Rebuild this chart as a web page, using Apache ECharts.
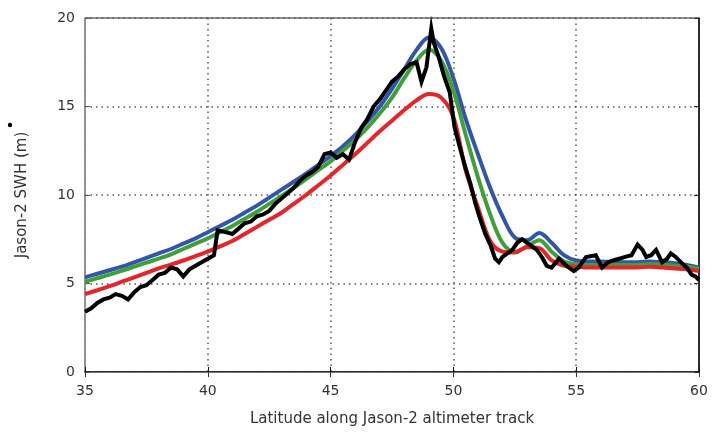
<!DOCTYPE html>
<html>
<head>
<meta charset="utf-8">
<script src="https://cdn.jsdelivr.net/npm/echarts@6/dist/echarts.min.js"></script>
<style>
  html, body { margin: 0; padding: 0; background: #fff; }
  #chart { width: 713px; height: 435px; }
</style>
</head>
<body>
<div id="chart"></div>
<script>
// Model latitude grid (degrees N), 0.5 degree spacing
const modelLat = [
  35, 35.5, 36, 36.5, 37, 37.5, 38, 38.5, 39, 39.5,
  40, 40.5, 41, 41.5, 42, 42.5, 43, 43.5, 44, 44.5,
  45, 45.5, 46, 46.5, 47, 47.5, 48, 48.5, 49, 49.5,
  50, 50.5, 51, 51.5, 52, 52.5, 53, 53.5, 54, 54.5,
  55, 55.5, 56, 56.5, 57, 57.5, 58, 58.5, 59, 59.5, 60
];

// Modelled significant wave height (m), three model runs
const swhBlue = [
  5.35, 5.55, 5.75, 5.95, 6.2, 6.45, 6.7, 6.95, 7.25, 7.55,
  7.9, 8.25, 8.6, 9.0, 9.4, 9.85, 10.3, 10.75, 11.2, 11.7,
  12.2, 12.75, 13.4, 14.15, 15.0, 16.0, 17.1, 18.2, 18.9, 18.3,
  16.6, 14.3, 12.3, 10.4, 8.8, 7.6, 7.45, 7.85, 7.3, 6.6,
  6.3, 6.25, 6.25, 6.2, 6.2, 6.2, 6.25, 6.2, 6.15, 6.05, 5.9
];
const swhGreen = [
  5.1, 5.3, 5.5, 5.72, 5.95, 6.18, 6.4, 6.65, 6.95, 7.25,
  7.55, 7.9, 8.25, 8.65, 9.05, 9.5, 9.95, 10.4, 10.9, 11.4,
  11.9, 12.5, 13.1, 13.8, 14.6, 15.5, 16.6, 17.6, 18.2, 17.6,
  15.9, 13.4, 11.0, 8.9, 7.3, 6.8, 7.1, 7.45, 6.8, 6.25,
  6.1, 6.05, 6.05, 6.05, 6.05, 6.05, 6.1, 6.05, 6.0, 5.95, 5.85
];
const swhRed = [
  4.4, 4.62, 4.85, 5.1, 5.35, 5.6, 5.85, 6.07, 6.3, 6.55,
  6.8, 7.1, 7.4, 7.8, 8.2, 8.6, 9.0, 9.5, 10.0, 10.55,
  11.1, 11.7, 12.3, 12.95, 13.6, 14.2, 14.8, 15.35, 15.7, 15.5,
  14.4, 11.4, 9.3, 7.4, 6.8, 6.75, 7.05, 7.0, 6.3, 6.0,
  5.95, 5.9, 5.9, 5.9, 5.9, 5.9, 5.95, 5.9, 5.85, 5.8, 5.7
];

// Jason-2 altimeter observations along the track
const obsLat = [
  35.0, 35.25, 35.5, 35.75, 36.0, 36.25, 36.5, 36.75, 37.0, 37.25,
  37.5, 37.75, 38.0, 38.25, 38.5, 38.75, 39.0, 39.25, 39.5, 39.75,
  40.0, 40.25, 40.4, 40.75, 41.0, 41.25, 41.5, 41.75, 42.0, 42.25,
  42.5, 42.75, 43.0, 43.25, 43.5, 43.75, 44.0, 44.25, 44.5, 44.75,
  45.0, 45.25, 45.5, 45.75, 46.0, 46.25, 46.5, 46.75, 47.0, 47.25,
  47.5, 47.75, 48.0, 48.25, 48.5, 48.7, 48.9, 49.1, 49.2, 49.4,
  49.6, 49.85, 50.05, 50.3, 50.5, 50.7, 50.9, 51.1, 51.3, 51.5,
  51.7, 51.85, 52.0, 52.2, 52.4, 52.6, 52.8, 53.0, 53.2, 53.4,
  53.6, 53.8, 54.0, 54.3, 54.6, 54.9, 55.1, 55.4, 55.8, 56.05,
  56.3, 56.5, 56.75, 57.0, 57.25, 57.5, 57.7, 57.85, 58.05, 58.25,
  58.5, 58.7, 58.85, 59.05, 59.3, 59.5, 59.7, 59.85, 60.0
];
const obsSwh = [
  3.4, 3.6, 3.9, 4.1, 4.2, 4.4, 4.3, 4.1, 4.5, 4.8,
  4.9, 5.2, 5.5, 5.6, 5.9, 5.8, 5.4, 5.8, 6.0, 6.2,
  6.4, 6.6, 8.0, 7.9, 7.8, 8.1, 8.4, 8.5, 8.8, 8.9,
  9.1, 9.5, 9.8, 10.1, 10.4, 10.8, 11.1, 11.3, 11.6, 12.3,
  12.4, 12.1, 12.3, 12.0, 13.0, 13.8, 14.3, 15.0, 15.4, 15.9,
  16.4, 16.7, 17.1, 17.4, 17.5, 16.4, 17.2, 19.4, 18.6, 17.8,
  16.8, 15.8, 13.8, 12.5, 11.5, 10.6, 9.5, 8.6, 7.8, 7.2,
  6.4, 6.2, 6.5, 6.7, 6.9, 7.3, 7.5, 7.3, 7.1, 6.9,
  6.5, 6.0, 5.9, 6.4, 6.0, 5.7, 5.9, 6.5, 6.6, 5.9,
  6.2, 6.3, 6.4, 6.5, 6.6, 7.2, 6.9, 6.5, 6.6, 6.9,
  6.2, 6.4, 6.7, 6.5, 6.15, 5.9, 5.5, 5.4, 5.2
];

const xTicks = [35, 40, 45, 50, 55, 60];
const yTicks = [0, 5, 10, 15, 20];

const pairs = (xs, ys) => xs.map((x, i) => [x, ys[i]]);

const labelFont = {
  color: '#333',
  fontFamily: 'DejaVu Sans',
  fontSize: 14
};

const chart = echarts.init(document.getElementById('chart'), null, { renderer: 'canvas' });

const modelSeries = (name, values, color) => ({
  name: name,
  type: 'line',
  data: pairs(modelLat, values),
  showSymbol: false,
  smooth: 0.35,
  lineStyle: { color: color, width: 4 },
  z: 2
});

chart.setOption({
  animation: false,
  backgroundColor: '#fff',
  grid: {
    left: 85, top: 18, right: 14, bottom: 63,
    show: true, borderColor: '#222', borderWidth: 1
  },
  xAxis: [{
    type: 'value',
    min: xTicks[0], max: xTicks[xTicks.length - 1], interval: 5,
    name: 'Latitude along Jason-2 altimeter track',
    nameLocation: 'middle', nameGap: 40,
    nameTextStyle: { color: '#333', fontFamily: 'DejaVu Sans', fontSize: 15 },
    axisLine: { show: true, lineStyle: { color: '#111', width: 1.5 } },
    axisTick: { show: true, inside: true, length: 5, lineStyle: { color: '#111' } },
    axisLabel: Object.assign({ margin: 12 }, labelFont),
    splitLine: { show: true, lineStyle: { color: '#555', type: [1.5, 4], width: 1.5 } }
  }, {
    type: 'value', position: 'top',
    min: xTicks[0], max: xTicks[xTicks.length - 1], interval: 5,
    axisLine: { show: true, lineStyle: { color: '#777' } },
    axisTick: { show: true, inside: true, length: 5, lineStyle: { color: '#333' } },
    axisLabel: { show: false },
    splitLine: { show: false }
  }],
  yAxis: [{
    type: 'value',
    min: yTicks[0], max: yTicks[yTicks.length - 1], interval: 5,
    name: 'Jason-2 SWH (m)',
    nameLocation: 'middle', nameGap: 55,
    nameTextStyle: { color: '#333', fontFamily: 'DejaVu Sans', fontSize: 15 },
    axisLine: { show: true, lineStyle: { color: '#999', width: 1.5 } },
    axisTick: { show: true, inside: true, length: 5, lineStyle: { color: '#555' } },
    axisLabel: Object.assign({ margin: 10 }, labelFont),
    splitLine: { show: true, lineStyle: { color: '#555', type: [1.5, 4], width: 1.5 } }
  }, {
    type: 'value', position: 'right',
    min: yTicks[0], max: yTicks[yTicks.length - 1], interval: 5,
    axisLine: { show: true, lineStyle: { color: '#111', width: 1.5 } },
    axisTick: { show: true, inside: true, length: 5, lineStyle: { color: '#333' } },
    axisLabel: { show: false },
    splitLine: { show: false }
  }],
  graphic: [{
    type: 'circle',
    shape: { cx: 10, cy: 125, r: 2.2 },
    style: { fill: '#000' }
  }],
  series: [
    modelSeries('Model A', swhBlue, '#3355aa'),
    modelSeries('Model B', swhGreen, '#3fa03a'),
    modelSeries('Model C', swhRed, '#e4262a'),
    {
      name: 'Jason-2',
      type: 'line',
      data: pairs(obsLat, obsSwh),
      showSymbol: false,
      lineStyle: { color: '#000', width: 4, join: 'miter' },
      z: 3
    }
  ]
});
</script>
</body>
</html>
